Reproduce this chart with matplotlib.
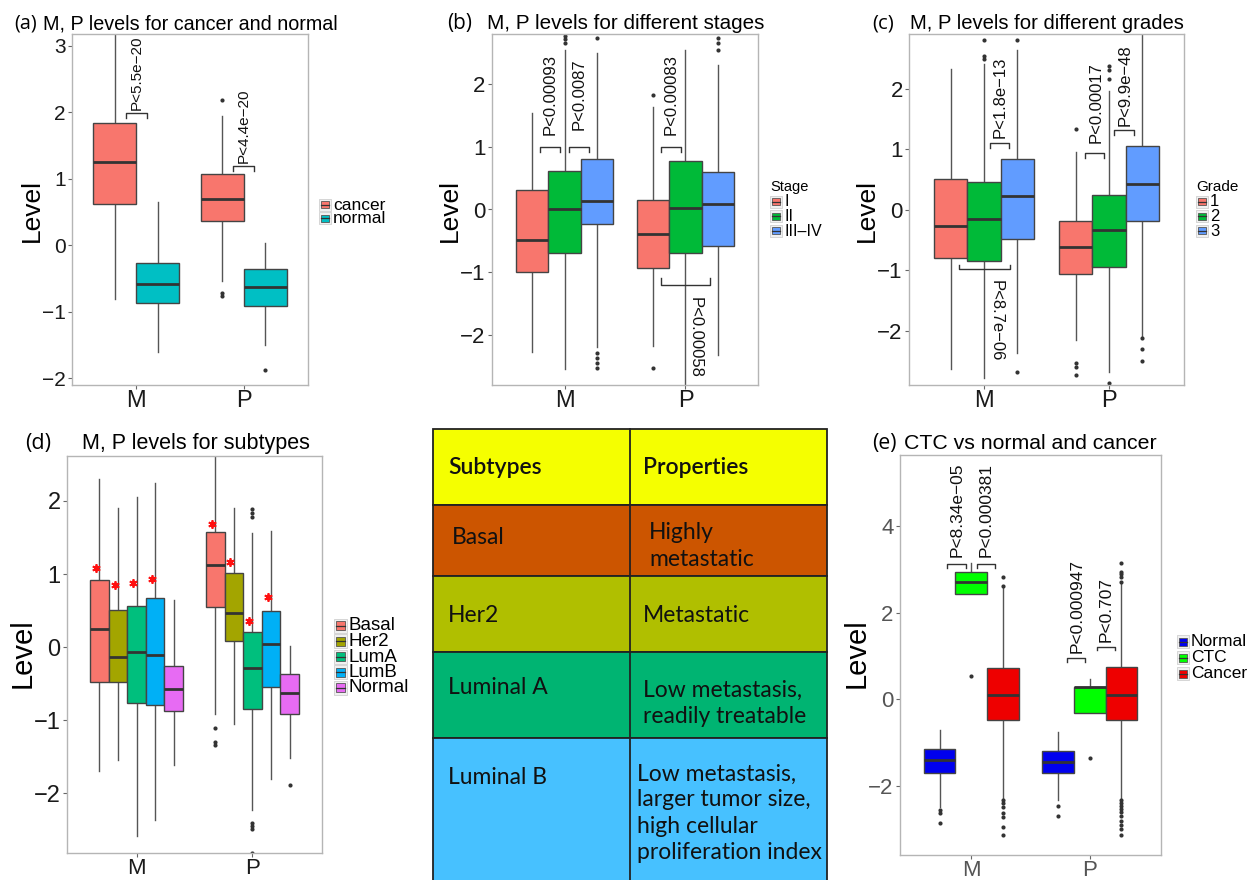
import matplotlib.pyplot as plt
from matplotlib.patches import Rectangle

plt.rcParams["font.family"] = ["Liberation Sans", "DejaVu Sans"]

W, H = 1251, 880
cats = ["M", "P"]

# (a) cancer vs normal; rows: M, P ; cols: groups
a_groups = ["cancer", "normal"]
a_q1 = [[0.62, -0.87], [0.36, -0.91]]
a_med = [[1.26, -0.58], [0.70, -0.62]]
a_q3 = [[1.84, -0.26], [1.07, -0.36]]
a_lo = [[-0.80, -1.60], [-0.53, -1.50]]
a_hi = [[3.30, 0.65], [1.94, 0.03]]
a_out = [[[], []], [[2.18, -0.72, -0.76], [-1.87]]]

# (b) stages
b_groups = ["I", "II", "III\u2013IV"]
b_q1 = [[-1.00, -0.70, -0.23], [-0.93, -0.69, -0.59]]
b_med = [[-0.48, 0.00, 0.14], [-0.39, 0.02, 0.08]]
b_q3 = [[0.31, 0.62, 0.80], [0.15, 0.78, 0.60]]
b_lo = [[-2.27, -2.55, -2.19], [-2.18, -2.95, -2.32]]
b_hi = [[1.54, 2.55, 2.49], [1.63, 2.55, 2.31]]
b_out = [[[], [2.77, 2.72, 2.66], [2.74, -2.29, -2.37, -2.45, -2.53]],
         [[1.83, -2.53], [], [2.55, 2.66, 2.74]]]

# (c) grades
c_groups = ["1", "2", "3"]
c_q1 = [[-0.79, -0.84, -0.48], [-1.06, -0.94, -0.19]]
c_med = [[-0.26, -0.15, 0.23], [-0.62, -0.33, 0.42]]
c_q3 = [[0.51, 0.46, 0.83], [-0.18, 0.25, 1.06]]
c_lo = [[-2.63, -2.78, -2.37], [-2.14, -2.67, -2.09]]
c_hi = [[2.33, 2.40, 2.63], [0.96, 1.96, 3.00]]
c_out = [[[], [2.80, 2.53, 2.48], [2.80, -2.68]],
         [[1.33, -2.52, -2.59, -2.73], [2.37, 2.30, 2.15, -2.85], [-2.12, -2.30, -2.50]]]

# (d) subtypes
d_groups = ["Basal", "Her2", "LumA", "LumB", "Normal"]
d_q1 = [[-0.47, -0.48, -0.76, -0.79, -0.87], [0.55, 0.09, -0.84, -0.55, -0.92]]
d_med = [[0.25, -0.14, -0.06, -0.10, -0.57], [1.13, 0.47, -0.29, 0.05, -0.62]]
d_q3 = [[0.92, 0.51, 0.57, 0.67, -0.26], [1.58, 1.01, 0.21, 0.50, -0.37]]
d_lo = [[-1.70, -1.54, -2.58, -2.36, -1.61], [-0.91, -1.05, -2.23, -1.80, -1.51]]
d_hi = [[2.30, 1.91, 2.05, 2.24, 0.65], [2.80, 1.90, 1.56, 1.59, 0.02]]
d_out = [[[], [], [], [], []],
         [[-1.10, -1.30, -1.34], [], [1.89, 1.83, 1.78, -2.40, -2.44, -2.49, -2.81], [], [-1.88]]]
d_star = [[1.08, 0.85, 0.88, 0.93, None], [1.69, 1.17, 0.36, 0.68, None]]

# (e) CTC vs normal and cancer
e_groups = ["Normal", "CTC", "Cancer"]
e_q1 = [[-1.69, 2.43, -0.48], [-1.69, -0.32, -0.48]]
e_med = [[-1.40, 2.70, 0.10], [-1.44, 0.28, 0.10]]
e_q3 = [[-1.15, 2.93, 0.73], [-1.19, 0.28, 0.74]]
e_lo = [[-2.48, 2.43, -2.28], [-2.32, -0.32, -2.32]]
e_hi = [[-0.71, 3.14, 2.56], [-0.75, 0.46, 2.68]]
e_out = [[[-2.55, -2.63, -2.85], [0.54], [2.82, 2.62, -2.33, -2.40, -2.48, -2.62, -2.72, -2.95, -3.13]],
         [[-2.46, -2.69], [-1.35], [3.14, 2.95, 2.90, 2.83, 2.72, -2.33, -2.38, -2.45, -2.52,
                                    -2.60, -2.70, -2.80, -2.90, -3.00, -3.13]]]

# table
tab_subtypes = ["Subtypes", "Basal", "Her2", "Luminal A", "Luminal B"]
tab_props = ["Properties", "Highly\nmetastatic", "Metastatic",
             "Low metastasis,\nreadily treatable",
             "Low metastasis,\nlarger tumor size,\nhigh cellular\nproliferation index"]
tab_colors = ["#F5FF00", "#CC5500", "#B0BF00", "#00B472", "#47C1FF"]

hue2 = ["#F8766D", "#00BFC4"]
hue3 = ["#F8766D", "#00BA38", "#619CFF"]
hue5 = ["#F8766D", "#A3A500", "#00BF7D", "#00B0F6", "#E76BF3"]
ctc_cols = ["#0000EE", "#00FF00", "#EE0000"]

fig = plt.figure(figsize=(W / 100, H / 100), dpi=100)
over = fig.add_axes([0, 0, 1, 1])
over.set_xlim(0, W)
over.set_ylim(H, 0)
over.axis("off")


def px_axes(l, t, r, b):
    return fig.add_axes([l / W, 1 - b / H, (r - l) / W, (b - t) / H])


def draw_boxes(ax, q1, med, q3, lo, hi, out, colors, ylim, ysize, xsize, tcol="#1a1a1a"):
    n = len(colors)
    w = 0.8 / n
    for i in range(len(cats)):
        stats, pos = [], []
        for j in range(n):
            stats.append(dict(q1=q1[i][j], med=med[i][j], q3=q3[i][j],
                              whislo=lo[i][j], whishi=hi[i][j], fliers=out[i][j]))
            pos.append(i + 1 - 0.4 + w * (j + 0.5))
        res = ax.bxp(stats, positions=pos, widths=w, patch_artist=True, showcaps=False,
                     manage_ticks=False,
                     boxprops=dict(edgecolor="#444444", linewidth=1.0, zorder=3),
                     medianprops=dict(color="#333333", linewidth=2.0, zorder=4),
                     whiskerprops=dict(color="#555555", linewidth=1.0, zorder=2),
                     flierprops=dict(marker="o", markersize=3, markerfacecolor="#333333",
                                     markeredgecolor="none"))
        for b, c in zip(res["boxes"], colors):
            b.set_facecolor(c)
    ax.set_xlim(0.4, 2.6)
    ax.set_ylim(*ylim)
    ax.set_xticks([1, 2])
    ax.set_xticklabels(cats)
    for s in ax.spines.values():
        s.set_color("#b5b5b5")
        s.set_linewidth(1.0)
    ax.tick_params(direction="out", length=3, width=0.8, color="#666666", pad=1.5)
    ax.tick_params(axis="y", labelsize=ysize, labelcolor=tcol)
    ax.tick_params(axis="x", labelsize=xsize, labelcolor=tcol, pad=0.5)


def bracket(ax, x0, x1, y, dy, label, tx, ty, fs, down=False):
    s = 1 if down else -1
    ax.plot([x0, x0, x1, x1], [y + s * dy, y, y, y + s * dy], color="#333333", lw=1.0, zorder=5)
    ax.text(tx, ty, label, rotation=-90 if down else 90, rotation_mode="anchor",
            ha="left", va="center", fontsize=fs, color="#111111", zorder=6)


def legend(x, y0, dy, labels, colors, fs, kw=11, kh=11, title=None, ty=None, tfs=10.5):
    if title:
        over.text(x - 1, ty, title, fontsize=tfs, ha="left", va="center")
    for i, (lab, c) in enumerate(zip(labels, colors)):
        yc = y0 + i * dy
        over.add_patch(Rectangle((x - 1, yc - kh / 2 - 1), kw + 2, kh + 2, fc="#f0f0f0",
                                 ec="#d0d0d0", lw=0.6))
        over.add_patch(Rectangle((x + 1, yc - kh / 2 + 1.5), kw - 2, kh - 3, fc=c,
                                 ec="#555555", lw=0.6))
        over.plot([x + 1, x + kw - 1], [yc, yc], color="#333333", lw=0.9)
        over.text(x + kw + 3, yc, lab, fontsize=fs, ha="left", va="center")


def title(xl, xt, yb, lab, txt, fs=14.5):
    over.text(xl, yb, lab, fontsize=fs, ha="left", va="baseline", family=["Open Sans", "DejaVu Sans"])
    over.text(xt, yb, txt, fontsize=fs, ha="left", va="baseline")


def ylab(x, y, fs=19):
    over.text(x, y, "Level", fontsize=fs, rotation=90, ha="center", va="center")


# ---- (a)
ax = px_axes(72, 34, 308, 385)
draw_boxes(ax, a_q1, a_med, a_q3, a_lo, a_hi, a_out, hue2, (-2.1, 3.18), 15, 17)
ax.set_yticks([-2, -1, 0, 1, 2, 3])
ax.set_yticklabels(["\u22122", "\u22121", "0", "1", "2", "3"])
bracket(ax, 0.9, 1.1, 1.99, 0.07, "P<5.5e\u221220", 1.0, 2.03, 11)
bracket(ax, 1.9, 2.1, 1.19, 0.07, "P<4.4e\u221220", 2.0, 1.24, 11)
title(14, 43, 29, "(a)", "M, P levels for cancer and normal", 14.2)
ylab(32, 210)
legend(320, 205, 13.5, a_groups, hue2, 12.5, kw=10, kh=10)

# ---- (b)
ax = px_axes(492, 34, 758, 385)
draw_boxes(ax, b_q1, b_med, b_q3, b_lo, b_hi, b_out, hue3, (-2.8, 2.8), 16, 17)
ax.set_yticks([-2, -1, 0, 1, 2])
ax.set_yticklabels(["\u22122", "\u22121", "0", "1", "2"])
bracket(ax, 0.80, 0.96, 1.0, 0.09, "P<0.00093", 0.88, 1.19, 12)
bracket(ax, 1.04, 1.20, 1.0, 0.09, "P<0.0087", 1.12, 1.27, 12)
bracket(ax, 1.80, 1.96, 1.0, 0.09, "P<0.00083", 1.88, 1.19, 12)
bracket(ax, 1.80, 2.20, -1.2, 0.10, "P<0.00058", 2.08, -1.40, 12, down=True)
title(447, 487, 29, "(b)", "M, P levels for different stages", 14.9)
ylab(450, 210)
legend(771, 202, 14.5, b_groups, hue3, 11.5, kw=10, kh=10, title="Stage", ty=187, tfs=10.5)

# ---- (c)
ax = px_axes(909, 34, 1184, 385)
draw_boxes(ax, c_q1, c_med, c_q3, c_lo, c_hi, c_out, hue3, (-2.89, 2.90), 16, 17)
ax.set_yticks([-2, -1, 0, 1, 2])
ax.set_yticklabels(["\u22122", "\u22121", "0", "1", "2"])
bracket(ax, 1.05, 1.20, 1.10, 0.08, "P<1.8e\u221213", 1.13, 1.18, 12)
bracket(ax, 0.80, 1.21, -0.98, 0.07, "P<8.7e\u221206", 1.10, -1.16, 12, down=True)
bracket(ax, 1.81, 1.96, 0.93, 0.08, "P<0.00017", 1.90, 1.10, 12)
bracket(ax, 2.04, 2.20, 1.31, 0.08, "P<9.9e\u221248", 2.13, 1.38, 12)
title(872, 910, 29, "(c)", "M, P levels for different grades", 14.6)
ylab(867, 210)
legend(1197, 202, 14.5, c_groups, hue3, 12, kw=10, kh=10, title="Grade", ty=187, tfs=11)

# ---- (d)
ax = px_axes(67, 456, 322, 853)
draw_boxes(ax, d_q1, d_med, d_q3, d_lo, d_hi, d_out, hue5, (-2.815, 2.615), 17, 16)
ax.set_yticks([-2, -1, 0, 1, 2])
ax.set_yticklabels(["\u22122", "\u22121", "0", "1", "2"])
for i in range(len(cats)):
    for j, v in enumerate(d_star[i]):
        if v is not None:
            ax.plot(i + 1 - 0.4 + 0.16 * (j + 0.5) - 0.03, v, marker=(6, 2, 0), ms=6,
                    mew=1.3, color="#FF1010", zorder=6)
title(25, 82, 449, "(d)", "M, P levels for subtypes", 15.5)
ylab(23, 653, 21)
legend(335, 626, 15.5, d_groups, hue5, 13.5, kw=11, kh=12)

# ---- table
row_edges = [429, 505, 576, 652, 738, 885]
x_l, x_m, x_r = 433, 630, 827
left_y = [467, 537, 615, 688, 778]
right_y = [467, 546, 615, 703, 813]
for k in range(len(tab_subtypes)):
    y0, y1 = row_edges[k], row_edges[k + 1]
    over.add_patch(Rectangle((x_l, y0), x_r - x_l, y1 - y0, fc=tab_colors[k], ec="#222222", lw=1.3))
    over.plot([x_m, x_m], [y0, y1], color="#222222", lw=1.3)
    wt = "semibold" if k == 0 else "normal"
    over.text(448 if k != 1 else 452, left_y[k], tab_subtypes[k], fontsize=16.5, ha="left",
              va="center", family="Lato", weight=wt, color="#111111")
    xr = {1: 649, 4: 637}.get(k, 643)
    over.text(xr, right_y[k], tab_props[k], fontsize=16.5, ha="left", va="center",
              family="Lato", weight=wt, color="#111111", linespacing=1.3)

# ---- (e)
ax = px_axes(900, 455, 1161, 855)
draw_boxes(ax, e_q1, e_med, e_q3, e_lo, e_hi, e_out, ctc_cols, (-3.59, 5.64), 16, 16, tcol="#555555")
ax.set_yticks([-2, 0, 2, 4])
ax.set_yticklabels(["\u22122", "0", "2", "4"])
bracket(ax, 0.80, 0.96, 3.12, 0.09, "P<8.34e\u221205", 0.88, 3.28, 12.5)
bracket(ax, 1.05, 1.20, 3.12, 0.09, "P<0.000381", 1.13, 3.28, 12.5)
bracket(ax, 1.81, 1.96, 0.95, 0.09, "P<0.000947", 1.89, 1.06, 12.5)
bracket(ax, 2.06, 2.21, 1.22, 0.09, "P<0.707", 2.14, 1.33, 12.5)
title(872, 904, 449, "(e)", "CTC vs normal and cancer", 15.3)
ylab(857, 653, 21)
legend(1178, 642, 16, e_groups, ctc_cols, 12.5, kw=10, kh=11)

fig.savefig("out.png", dpi=100)
